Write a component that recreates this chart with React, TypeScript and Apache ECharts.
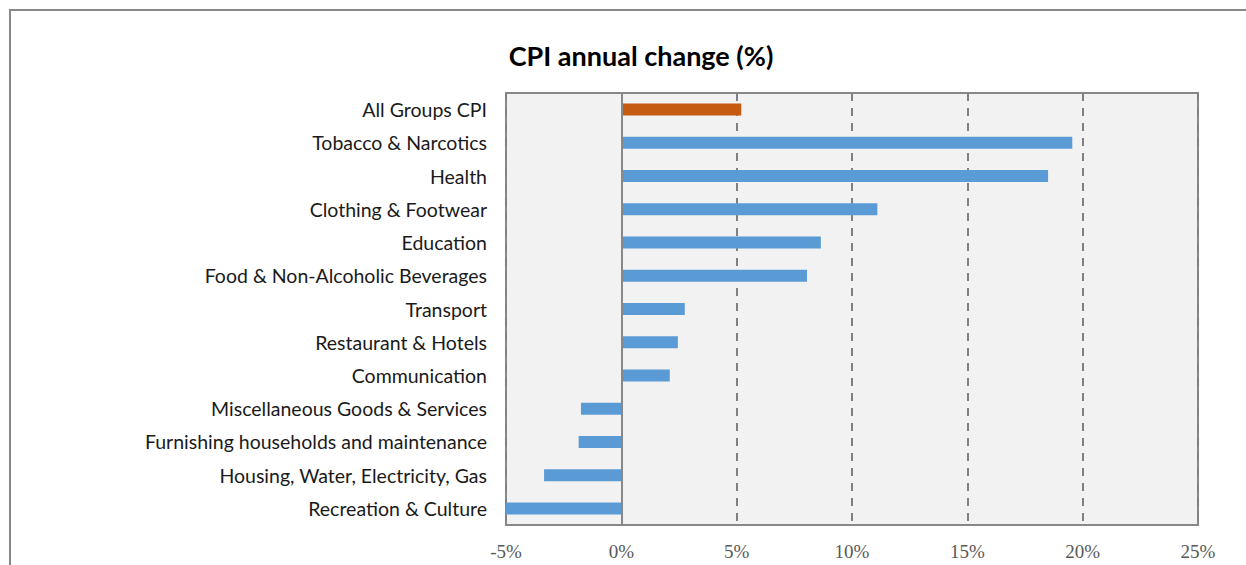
import React, { useEffect, useRef } from "react";
import * as echarts from "echarts";

const categories = [
  "All Groups CPI",
  "Tobacco & Narcotics",
  "Health",
  "Clothing & Footwear",
  "Education",
  "Food & Non-Alcoholic Beverages",
  "Transport",
  "Restaurant & Hotels",
  "Communication",
  "Miscellaneous Goods & Services",
  "Furnishing households and maintenance",
  "Housing, Water, Electricity, Gas",
  "Recreation & Culture",
];
const values = [5.2, 19.55, 18.5, 11.1, 8.65, 8.05, 2.75, 2.45, 2.1, -1.75, -1.85, -3.35, -5.0];
const highlightIndex = 0;
const xTicks = { min: -5, max: 25, interval: 5 };
const title = "CPI annual change (%)";

export default function App() {
  const ref = useRef<HTMLDivElement>(null);
  useEffect(() => {
    if (!ref.current) return;
    const chart = echarts.init(ref.current, null, { renderer: "svg" });
    chart.setOption({
      animation: false,
      backgroundColor: "#ffffff",
      title: {
        text: title,
        left: 636,
        textAlign: "center",
        top: 37,
        textStyle: { fontFamily: "Lato", fontWeight: "bold", fontSize: 27, color: "#000" },
      },
      graphic: [
        {
          type: "rect",
          shape: { x: 10, y: 10, width: 1400, height: 700 },
          style: { fill: "none", stroke: "#888888", lineWidth: 2 },
          silent: true,
        },
      ],
      grid: {
        left: 506,
        right: 48,
        top: 93,
        bottom: 40,
        show: true,
        backgroundColor: "#f2f2f2",
        borderColor: "#888888",
        borderWidth: 2,
        containLabel: false,
      },
      xAxis: {
        type: "value",
        min: xTicks.min,
        max: xTicks.max,
        interval: xTicks.interval,
        axisLine: { show: false },
        axisTick: { show: false },
        splitLine: { show: true, lineStyle: { color: "#808080", type: [8, 7], width: 2 } },
        axisLabel: {
          formatter: (v: number) => `${v}%`,
          fontFamily: "Liberation Serif",
          fontSize: 19,
          color: "#595959",
          margin: 17,
        },
      },
      yAxis: {
        type: "category",
        data: categories,
        inverse: true,
        axisLine: { show: false },
        axisTick: { show: false },
        splitLine: { show: false },
        axisLabel: {
          fontFamily: "Lato",
          fontSize: 19.5,
          color: "#1a1a1a",
          margin: 19,
          padding: [10, 0, 0, 0],
        },
      },
      series: [
        {
          type: "bar",
          barWidth: 12,
          data: values.map((v, i) => ({
            value: v,
            itemStyle: { color: i === highlightIndex ? "#c55a11" : "#5b9bd5" },
          })),
          markLine: {
            silent: true,
            symbol: "none",
            label: { show: false },
            lineStyle: { color: "#888888", type: "solid", width: 2 },
            data: [{ xAxis: 0 }],
          },
        },
      ],
    });
    return () => chart.dispose();
  }, []);
  return (
    <div
      ref={ref}
      style={{ position: "fixed", left: 0, top: 0, width: 1246, height: 565 }}
    />
  );
}
